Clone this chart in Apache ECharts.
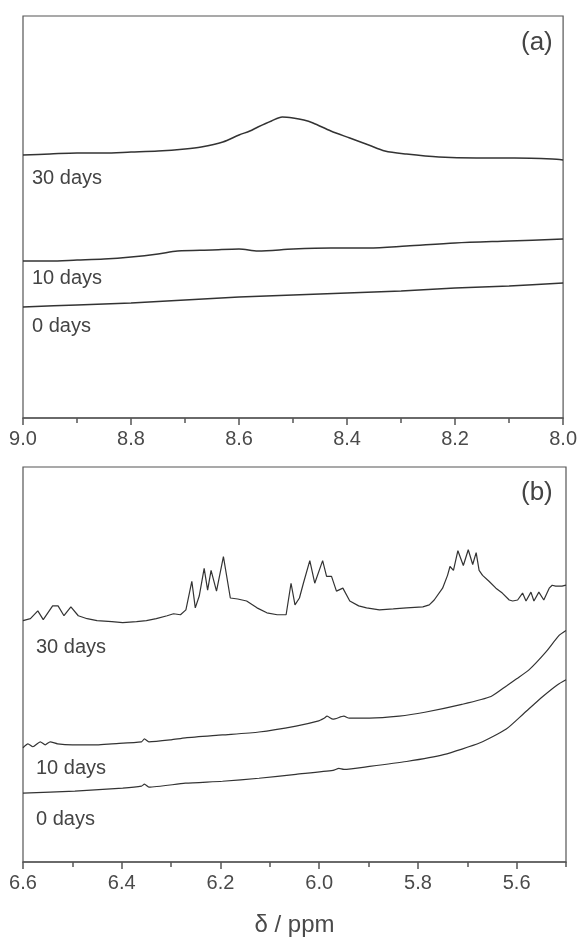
<!DOCTYPE html>
<html>
<head>
<meta charset="utf-8">
<script src="https://cdn.jsdelivr.net/npm/echarts@6/dist/echarts.min.js"></script>
<style>
  html, body { margin: 0; padding: 0; background: #fff; }
  #box { width: 580px; height: 938px; }
</style>
</head>
<body>
<div id="box"></div>
<script>
// panel (a): 9.0 -> 8.0 ppm, heights (px above axis)
var a30 = [[9.0,263],[8.95,264],[8.9,265],[8.85,265],[8.8,266],[8.75,267],[8.7,269],[8.67,271],[8.63,276],[8.6,283],[8.58,287],[8.565,291],[8.54,297],[8.52,301],[8.5,300],[8.48,298],[8.463,295],[8.43,287],[8.395,280],[8.36,273],[8.33,267],[8.29,264],[8.23,261],[8.16,260],[8.09,260],[8.02,259],[8.0,258]];
var a10 = [[9.0,157],[8.95,157],[8.9,158],[8.85,159],[8.8,161],[8.75,164],[8.714,167],[8.65,168],[8.6,169],[8.565,167],[8.5,169],[8.43,170],[8.36,170],[8.29,172],[8.2,175],[8.1,177],[8.0,179]];
var a0 = [[9.0,111],[8.9,113],[8.8,115],[8.7,118],[8.6,121],[8.5,123],[8.4,125],[8.3,127],[8.2,130],[8.1,132],[8.0,135]];

// panel (b): 6.6 -> 5.5 ppm
var b30 = [[6.6,245],[6.585,247],[6.57,255],[6.559,246],[6.54,260],[6.529,260],[6.517,250],[6.503,259],[6.488,250],[6.47,247],[6.45,245],[6.42,244],[6.398,243],[6.37,244],[6.35,245],[6.33,247],[6.308,250],[6.295,252],[6.281,251],[6.27,256],[6.258,285],[6.251,258],[6.243,270],[6.233,298],[6.226,276],[6.219,296],[6.208,275],[6.194,310],[6.18,268],[6.165,267],[6.147,265],[6.126,258],[6.106,253],[6.085,251],[6.067,251],[6.057,283],[6.049,261],[6.04,268],[6.032,283],[6.019,306],[6.009,283],[5.993,306],[5.985,290],[5.975,290],[5.965,275],[5.952,278],[5.938,265],[5.92,260],[5.904,258],[5.878,256],[5.85,257],[5.823,258],[5.79,259],[5.777,261],[5.767,266],[5.75,278],[5.74,291],[5.735,300],[5.728,296],[5.719,316],[5.708,301],[5.698,317],[5.689,302],[5.682,314],[5.676,296],[5.669,291],[5.656,285],[5.642,278],[5.629,273],[5.615,266],[5.608,265],[5.598,266],[5.588,273],[5.581,265],[5.571,274],[5.565,265],[5.555,274],[5.545,266],[5.534,278],[5.528,281],[5.521,280],[5.508,280],[5.5,281]];
var b10 = [[6.6,116],[6.59,120],[6.58,117],[6.565,122],[6.555,119],[6.545,122],[6.53,120],[6.5,119],[6.45,119],[6.42,120],[6.36,122],[6.354,125],[6.345,122],[6.3,124],[6.271,126],[6.196,129],[6.122,132],[6.047,138],[6.003,143],[5.99,146],[5.984,148],[5.972,145],[5.95,148],[5.939,146],[5.898,146],[5.838,148],[5.786,152],[5.711,160],[5.652,168],[5.62,179],[5.6,186],[5.575,195],[5.541,213],[5.514,230],[5.5,235]];
var b0 = [[6.6,70],[6.495,72],[6.398,75],[6.36,77],[6.354,79],[6.345,76],[6.271,80],[6.196,82],[6.122,85],[6.047,89],[5.972,93],[5.96,95],[5.95,94],[5.898,97],[5.823,102],[5.748,109],[5.674,121],[5.621,135],[5.585,151],[5.547,168],[5.517,180],[5.5,185]];

var aMajor = [9.0, 8.8, 8.6, 8.4, 8.2, 8.0];
var aMinor = [9.0, 8.9, 8.8, 8.7, 8.6, 8.5, 8.4, 8.3, 8.2, 8.1, 8.0];
var bMajor = [6.6, 6.4, 6.2, 6.0, 5.8, 5.6];
var bMinor = [6.6, 6.5, 6.4, 6.3, 6.2, 6.1, 6.0, 5.9, 5.8, 5.7, 5.6, 5.5];

var aLabels = ['30 days', '10 days', '0 days'];
var bLabels = ['30 days', '10 days', '0 days'];

var font = 'Liberation Sans, Arial, sans-serif';
var lineCol = '#333';
var frameCol = '#555';

function majorAxis(grid, min, max, ticks, name) {
    return {
        type: 'value', gridIndex: grid, min: min, max: max, inverse: true,
        position: 'bottom', offset: 0,
        splitLine: { show: false },
        axisLine: { show: true, lineStyle: { color: frameCol, width: 1.5 } },
        axisTick: { show: true, length: 7, customValues: ticks, lineStyle: { color: frameCol, width: 1.5 } },
        axisLabel: {
            customValues: ticks, margin: 11, fontSize: 20, color: '#4a4a4a', fontFamily: font,
            formatter: function (v) { return v.toFixed(1); }
        },
        name: name || '', nameLocation: 'middle', nameGap: 51,
        nameTextStyle: { fontSize: 24, color: '#4a4a4a', fontFamily: font }
    };
}

function minorAxis(grid, min, max, ticks) {
    return {
        type: 'value', gridIndex: grid, min: min, max: max, inverse: true,
        position: 'bottom', offset: 0,
        splitLine: { show: false },
        axisLine: { show: false },
        axisTick: { show: true, length: 5, customValues: ticks, lineStyle: { color: frameCol, width: 1.5 } },
        axisLabel: { show: false }
    };
}

function trace(x, y, data, sm, w) {
    return {
        type: 'line', xAxisIndex: x, yAxisIndex: y, data: data,
        symbol: 'none', silent: true,
        smooth: sm,
        lineStyle: { color: lineCol, width: w }
    };
}

function label(txt, x, y, size) {
    return {
        type: 'text', left: x, top: y,
        style: { text: txt, fontSize: size, fill: '#444', fontFamily: font }
    };
}

var myChart = echarts.init(document.getElementById('box'));
var option = {
    animation: false,
    backgroundColor: '#fff',
    grid: [
        { left: 23, right: 14, top: 16, height: 402, show: true, borderColor: frameCol, borderWidth: 1.2, backgroundColor: 'transparent' },
        { left: 23, right: 14, top: 467, height: 401, show: true, borderColor: frameCol, borderWidth: 1.2, backgroundColor: 'transparent' }
    ],
    xAxis: [
        majorAxis(0, 8.0, 9.0, aMajor),
        minorAxis(0, 8.0, 9.0, aMinor),
        majorAxis(1, 5.5, 6.6, bMajor, 'δ / ppm'),
        minorAxis(1, 5.5, 6.6, bMinor)
    ],
    yAxis: [
        { type: 'value', gridIndex: 0, min: 0, max: 402, show: false },
        { type: 'value', gridIndex: 1, min: 0, max: 401, show: false }
    ],
    series: [
        trace(0, 0, a30, 0.3, 1.5), trace(0, 0, a10, 0.3, 1.5), trace(0, 0, a0, 0.3, 1.5),
        trace(2, 1, b30, false, 1.2), trace(2, 1, b10, 0.2, 1.2), trace(2, 1, b0, 0.2, 1.2)
    ],
    graphic: [
        label('(a)', 521, 30, 26),
        label(aLabels[0], 32, 168, 20),
        label(aLabels[1], 32, 268, 20),
        label(aLabels[2], 32, 316, 20),
        label('(b)', 521, 480, 26),
        label(bLabels[0], 36, 637, 20),
        label(bLabels[1], 36, 758, 20),
        label(bLabels[2], 36, 809, 20)
    ]
};
myChart.setOption(option);
</script>
</body>
</html>
